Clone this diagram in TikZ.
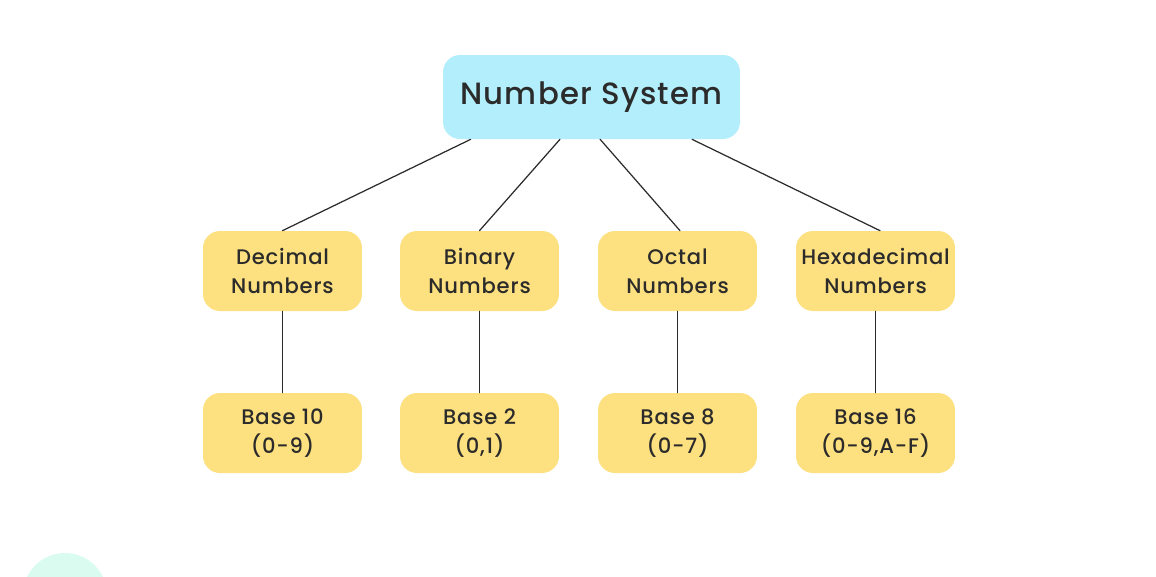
\documentclass[tikz,border=0pt]{standalone}
\usepackage{fontspec}
\setmainfont{Poppins}[LetterSpace=4,BoldFont={Poppins Medium}]
\usetikzlibrary{calc}

\definecolor{topblue}{HTML}{B3EEFC}
\definecolor{leafyellow}{HTML}{FDE07F}
\definecolor{inkgray}{HTML}{2B2B2B}
\definecolor{mintdot}{HTML}{D9FBF0}

\begin{document}
\begin{tikzpicture}[
    x=0.02cm,
    y=-0.02cm,
    line cap=round,
    line join=round,
    link/.style={
        draw=inkgray,
        line width=0.7pt
    },
    rootbox/.style={
        fill=topblue,
        rounded corners=0.34cm,
        minimum width=5.94cm,
        minimum height=1.68cm,
        inner sep=2pt,
        text=inkgray,
        font=\bfseries\fontsize{17.5}{21}\selectfont
    },
    leafbox/.style={
        fill=leafyellow,
        rounded corners=0.34cm,
        minimum width=3.18cm,
        minimum height=1.6cm,
        inner sep=1pt,
        align=center,
        text=inkgray,
        font=\bfseries\fontsize{12}{16.5}\selectfont
    }
]

% =================================================
% Рамка рисунка
% =================================================

\clip (0,0) rectangle (1156,576);
\fill[white] (0,0) rectangle (1156,576);

% Декоративный круг в левом нижнем углу
\fill[mintdot] (65,595) circle[radius=0.84cm];

% =================================================
% Узлы
% =================================================

% Корень
\node[rootbox] (sys) at (591.5,97) {Number System};

% Виды систем
\node[leafbox] (dec) at (282.5,271) {Decimal\\Numbers};
\node[leafbox] (bin) at (479.5,271) {Binary\\Numbers};
\node[leafbox] (oct) at (677.5,271) {Octal\\Numbers};
\node[leafbox] (hex) at (875.5,271) {Hexadecimal\\Numbers};

% Основания
\node[leafbox] (dec-b) at (282.5,433) {Base 10\\(0-9)};
\node[leafbox] (bin-b) at (479.5,433) {Base 2\\(0,1)};
\node[leafbox] (oct-b) at (677.5,433) {Base 8\\(0-7)};
\node[leafbox] (hex-b) at (875.5,433) {Base 16\\(0-9,A-F)};

% =================================================
% Связи
% =================================================

% Точки выхода на нижней стороне корня
\coordinate (s1) at ($(sys.south west)!0.094!(sys.south east)$);
\coordinate (s2) at ($(sys.south west)!0.394!(sys.south east)$);
\coordinate (s3) at ($(sys.south west)!0.529!(sys.south east)$);
\coordinate (s4) at ($(sys.south west)!0.838!(sys.south east)$);

\draw[link] (s1) -- (dec.north);
\draw[link] (s2) -- (bin.north);
\draw[link] (s3) -- ($(oct.north)+(2.5,0)$);
\draw[link] (s4) -- ($(hex.north)+(4.5,0)$);

\draw[link] (dec) -- (dec-b);
\draw[link] (bin) -- (bin-b);
\draw[link] (oct) -- (oct-b);
\draw[link] (hex) -- (hex-b);

\end{tikzpicture}
\end{document}
